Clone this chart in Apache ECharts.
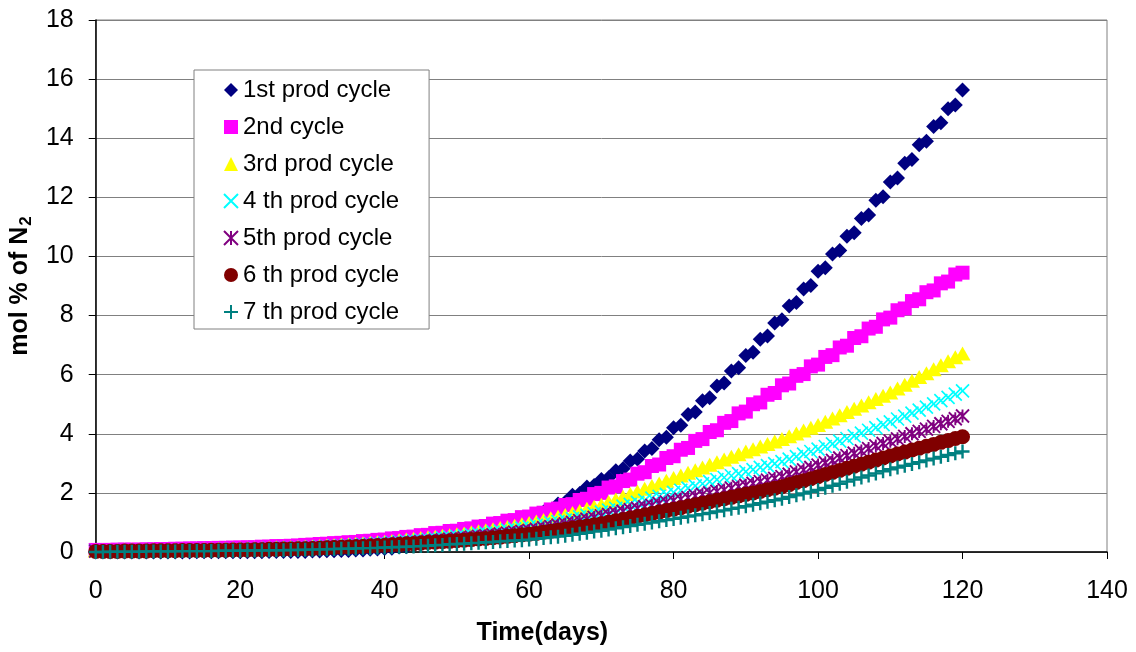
<!DOCTYPE html>
<html>
<head>
<meta charset="utf-8">
<script src="https://cdn.jsdelivr.net/npm/echarts@6/dist/echarts.min.js"></script>
<style>
  html, body { margin: 0; padding: 0; background: #fff; }
  #chart { width: 1136px; height: 652px; }
</style>
</head>
<body>
<div id="chart"></div>
<script>
// time axis (days)
const days = [
  0, 1, 2, 3, 4, 5, 6, 7, 8, 9,
  10, 11, 12, 13, 14, 15, 16, 17, 18, 19,
  20, 21, 22, 23, 24, 25, 26, 27, 28, 29,
  30, 31, 32, 33, 34, 35, 36, 37, 38, 39,
  40, 41, 42, 43, 44, 45, 46, 47, 48, 49,
  50, 51, 52, 53, 54, 55, 56, 57, 58, 59,
  60, 61, 62, 63, 64, 65, 66, 67, 68, 69,
  70, 71, 72, 73, 74, 75, 76, 77, 78, 79,
  80, 81, 82, 83, 84, 85, 86, 87, 88, 89,
  90, 91, 92, 93, 94, 95, 96, 97, 98, 99,
  100, 101, 102, 103, 104, 105, 106, 107, 108, 109,
  110, 111, 112, 113, 114, 115, 116, 117, 118, 119,
  120
];

// mol % of N2 per production cycle
const cycle1 = [
  0.00, 0.00, 0.00, 0.00, 0.00, 0.00, 0.00, 0.00, 0.00, 0.00,
  0.00, 0.00, 0.00, 0.00, 0.01, 0.01, 0.01, 0.01, 0.01, 0.01,
  0.01, 0.01, 0.01, 0.01, 0.02, 0.02, 0.02, 0.02, 0.02, 0.02,
  0.03, 0.03, 0.04, 0.04, 0.05, 0.05, 0.07, 0.07, 0.09, 0.10,
  0.12, 0.13, 0.17, 0.18, 0.24, 0.26, 0.32, 0.34, 0.41, 0.43,
  0.50, 0.52, 0.61, 0.63, 0.73, 0.76, 0.87, 0.90, 1.01, 1.04,
  1.15, 1.19, 1.35, 1.40, 1.62, 1.68, 1.92, 1.98, 2.20, 2.25,
  2.45, 2.51, 2.75, 2.82, 3.08, 3.15, 3.42, 3.50, 3.80, 3.88,
  4.20, 4.29, 4.65, 4.74, 5.12, 5.22, 5.62, 5.72, 6.12, 6.23,
  6.65, 6.76, 7.20, 7.31, 7.75, 7.86, 8.32, 8.44, 8.90, 9.02,
  9.50, 9.62, 10.08, 10.20, 10.68, 10.80, 11.28, 11.40, 11.90, 12.02,
  12.52, 12.65, 13.15, 13.28, 13.78, 13.90, 14.40, 14.52, 15.00, 15.12,
  15.63
];
const cycle2 = [
  0.07, 0.07, 0.07, 0.08, 0.08, 0.08, 0.08, 0.09, 0.09, 0.10,
  0.10, 0.11, 0.11, 0.12, 0.12, 0.13, 0.13, 0.14, 0.14, 0.15,
  0.15, 0.16, 0.16, 0.18, 0.18, 0.20, 0.20, 0.21, 0.22, 0.24,
  0.25, 0.27, 0.28, 0.30, 0.31, 0.33, 0.34, 0.37, 0.38, 0.41,
  0.42, 0.46, 0.47, 0.51, 0.52, 0.57, 0.58, 0.64, 0.65, 0.71,
  0.72, 0.78, 0.80, 0.86, 0.88, 0.96, 0.98, 1.06, 1.08, 1.18,
  1.20, 1.30, 1.33, 1.44, 1.47, 1.59, 1.62, 1.76, 1.80, 1.96,
  2.00, 2.18, 2.22, 2.40, 2.45, 2.65, 2.70, 2.91, 2.96, 3.18,
  3.24, 3.46, 3.52, 3.76, 3.82, 4.06, 4.12, 4.37, 4.43, 4.69,
  4.75, 5.00, 5.06, 5.32, 5.38, 5.64, 5.70, 5.96, 6.02, 6.28,
  6.34, 6.60, 6.66, 6.92, 6.98, 7.24, 7.30, 7.56, 7.62, 7.87,
  7.93, 8.18, 8.24, 8.49, 8.55, 8.79, 8.85, 9.09, 9.15, 9.39,
  9.45
];
const cycle3 = [
  0.05, 0.05, 0.05, 0.05, 0.06, 0.06, 0.06, 0.06, 0.07, 0.07,
  0.07, 0.07, 0.08, 0.08, 0.08, 0.09, 0.09, 0.10, 0.10, 0.11,
  0.11, 0.12, 0.12, 0.13, 0.14, 0.15, 0.15, 0.16, 0.17, 0.18,
  0.19, 0.20, 0.22, 0.23, 0.25, 0.26, 0.28, 0.30, 0.31, 0.33,
  0.35, 0.37, 0.40, 0.42, 0.45, 0.47, 0.50, 0.52, 0.55, 0.57,
  0.60, 0.63, 0.67, 0.70, 0.74, 0.77, 0.81, 0.85, 0.89, 0.94,
  0.98, 1.03, 1.08, 1.14, 1.19, 1.25, 1.32, 1.39, 1.46, 1.53,
  1.60, 1.69, 1.78, 1.87, 1.96, 2.05, 2.14, 2.23, 2.32, 2.41,
  2.50, 2.59, 2.68, 2.77, 2.86, 2.95, 3.04, 3.13, 3.22, 3.31,
  3.40, 3.48, 3.57, 3.65, 3.74, 3.82, 3.92, 4.01, 4.11, 4.20,
  4.30, 4.41, 4.52, 4.63, 4.74, 4.85, 4.96, 5.07, 5.18, 5.29,
  5.40, 5.53, 5.66, 5.79, 5.92, 6.05, 6.18, 6.32, 6.45, 6.59,
  6.72
];
const cycle4 = [
  0.04, 0.04, 0.04, 0.04, 0.05, 0.05, 0.05, 0.05, 0.06, 0.06,
  0.06, 0.06, 0.07, 0.07, 0.07, 0.08, 0.08, 0.08, 0.09, 0.09,
  0.09, 0.10, 0.11, 0.11, 0.12, 0.12, 0.13, 0.14, 0.14, 0.15,
  0.16, 0.17, 0.18, 0.20, 0.21, 0.22, 0.24, 0.25, 0.27, 0.28,
  0.30, 0.32, 0.34, 0.36, 0.38, 0.40, 0.42, 0.45, 0.47, 0.50,
  0.52, 0.55, 0.58, 0.61, 0.64, 0.67, 0.71, 0.74, 0.78, 0.81,
  0.85, 0.90, 0.94, 0.99, 1.03, 1.08, 1.13, 1.19, 1.24, 1.30,
  1.35, 1.42, 1.48, 1.55, 1.61, 1.68, 1.75, 1.82, 1.88, 1.95,
  2.02, 2.09, 2.16, 2.24, 2.31, 2.38, 2.45, 2.52, 2.58, 2.65,
  2.72, 2.79, 2.86, 2.92, 2.99, 3.06, 3.14, 3.23, 3.31, 3.40,
  3.48, 3.57, 3.66, 3.75, 3.84, 3.93, 4.02, 4.12, 4.21, 4.31,
  4.40, 4.50, 4.60, 4.70, 4.80, 4.90, 5.01, 5.12, 5.23, 5.34,
  5.45
];
const cycle5 = [
  0.03, 0.03, 0.03, 0.03, 0.04, 0.04, 0.04, 0.04, 0.05, 0.05,
  0.05, 0.05, 0.06, 0.06, 0.06, 0.07, 0.07, 0.07, 0.08, 0.08,
  0.08, 0.09, 0.09, 0.10, 0.10, 0.11, 0.11, 0.12, 0.12, 0.13,
  0.14, 0.15, 0.16, 0.17, 0.18, 0.19, 0.21, 0.22, 0.23, 0.25,
  0.26, 0.28, 0.30, 0.31, 0.33, 0.35, 0.37, 0.39, 0.41, 0.43,
  0.45, 0.48, 0.50, 0.53, 0.55, 0.58, 0.61, 0.64, 0.67, 0.70,
  0.73, 0.77, 0.82, 0.86, 0.91, 0.95, 1.00, 1.06, 1.11, 1.17,
  1.22, 1.27, 1.32, 1.38, 1.43, 1.48, 1.53, 1.58, 1.64, 1.69,
  1.74, 1.79, 1.84, 1.90, 1.95, 2.00, 2.05, 2.10, 2.16, 2.21,
  2.26, 2.32, 2.38, 2.43, 2.49, 2.55, 2.63, 2.71, 2.78, 2.86,
  2.94, 3.02, 3.10, 3.18, 3.26, 3.34, 3.42, 3.50, 3.59, 3.67,
  3.75, 3.83, 3.91, 4.00, 4.08, 4.16, 4.25, 4.34, 4.42, 4.51,
  4.60
];
const cycle6 = [
  0.02, 0.02, 0.02, 0.02, 0.03, 0.03, 0.03, 0.03, 0.04, 0.04,
  0.04, 0.04, 0.05, 0.05, 0.05, 0.05, 0.06, 0.06, 0.06, 0.07,
  0.07, 0.07, 0.08, 0.08, 0.09, 0.09, 0.10, 0.10, 0.11, 0.11,
  0.12, 0.13, 0.14, 0.15, 0.16, 0.17, 0.18, 0.19, 0.20, 0.21,
  0.22, 0.24, 0.25, 0.27, 0.28, 0.30, 0.32, 0.33, 0.35, 0.36,
  0.38, 0.40, 0.42, 0.44, 0.46, 0.48, 0.50, 0.53, 0.55, 0.58,
  0.60, 0.63, 0.67, 0.70, 0.74, 0.77, 0.81, 0.85, 0.88, 0.92,
  0.96, 1.01, 1.06, 1.10, 1.15, 1.20, 1.25, 1.30, 1.35, 1.40,
  1.45, 1.50, 1.55, 1.60, 1.65, 1.70, 1.75, 1.80, 1.85, 1.90,
  1.95, 2.00, 2.05, 2.11, 2.16, 2.21, 2.28, 2.35, 2.41, 2.48,
  2.55, 2.62, 2.69, 2.76, 2.83, 2.90, 2.97, 3.04, 3.11, 3.18,
  3.25, 3.32, 3.38, 3.45, 3.51, 3.58, 3.64, 3.71, 3.77, 3.84,
  3.90
];
const cycle7 = [
  0.00, 0.00, 0.01, 0.01, 0.01, 0.01, 0.01, 0.02, 0.02, 0.02,
  0.02, 0.02, 0.03, 0.03, 0.03, 0.03, 0.03, 0.04, 0.04, 0.04,
  0.04, 0.05, 0.05, 0.05, 0.06, 0.06, 0.06, 0.07, 0.07, 0.08,
  0.08, 0.09, 0.09, 0.10, 0.11, 0.11, 0.12, 0.13, 0.13, 0.14,
  0.15, 0.16, 0.17, 0.18, 0.19, 0.20, 0.21, 0.23, 0.24, 0.26,
  0.27, 0.28, 0.30, 0.31, 0.33, 0.34, 0.36, 0.37, 0.39, 0.40,
  0.42, 0.45, 0.47, 0.50, 0.52, 0.55, 0.58, 0.62, 0.65, 0.69,
  0.72, 0.76, 0.80, 0.84, 0.88, 0.92, 0.96, 1.00, 1.04, 1.08,
  1.12, 1.16, 1.20, 1.24, 1.28, 1.32, 1.37, 1.41, 1.46, 1.50,
  1.55, 1.60, 1.65, 1.70, 1.75, 1.80, 1.86, 1.92, 1.98, 2.04,
  2.10, 2.17, 2.24, 2.31, 2.38, 2.45, 2.52, 2.59, 2.66, 2.73,
  2.80, 2.86, 2.92, 2.98, 3.04, 3.10, 3.16, 3.22, 3.28, 3.34,
  3.40
];

const names = ['1st prod cycle', '2nd cycle', '3rd prod cycle', '4 th prod cycle',
  '5th prod cycle', '6 th prod cycle', '7 th prod cycle'];

const FONT = 'Liberation Sans, Arial, sans-serif';

// excel-like markers
const markers = [
  { symbol: 'diamond', size: 15, color: '#000080' },
  { symbol: 'rect', size: 14, color: '#FF00FF' },
  { symbol: 'triangle', size: [16, 14], color: '#FFFF00' },
  { symbol: 'path://M0,0L10,10M10,0L0,10', size: 13, color: '#00FFFF', stroke: 1.7 },
  { symbol: 'path://M0,0L10,10M10,0L0,10M5,0L5,10', size: 13, color: '#800080', stroke: 1.9 },
  { symbol: 'circle', size: 15, color: '#800000' },
  { symbol: 'path://M5,0L5,10M0,5L10,5', size: 14, color: '#008080', stroke: 2.4 }
];

const allData = [cycle1, cycle2, cycle3, cycle4, cycle5, cycle6, cycle7];

const series = allData.map((vals, k) => {
  const m = markers[k];
  const itemStyle = m.stroke
    ? { color: 'rgba(0,0,0,0)', borderColor: m.color, borderWidth: m.stroke, opacity: 1 }
    : { color: m.color, borderWidth: 0, opacity: 1 };
  return {
    name: names[k],
    type: 'scatter',
    symbol: m.symbol,
    symbolSize: m.size,
    itemStyle: itemStyle,
    emphasis: { disabled: true },
    animation: false,
    data: days.map((d, i) => [d, vals[i]])
  };
});

const chart = echarts.init(document.getElementById('chart'), null, { renderer: 'canvas' });
chart.setOption({
  backgroundColor: '#fff',
  animation: false,
  textStyle: { fontFamily: FONT },
  grid: {
    left: 91, right: 29, top: 20, bottom: 100,
    show: true, borderColor: '#808080', borderWidth: 1, backgroundColor: '#fff'
  },
  legend: {
    orient: 'vertical',
    left: 194,
    top: 70,
    padding: [7, 30, 4, 29],
    itemWidth: 14,
    itemHeight: 14,
    itemGap: 11,
    backgroundColor: '#fff',
    borderColor: '#808080',
    borderWidth: 1,
    borderRadius: 0,
    data: names.map((n, k) => ({ name: n, icon: markers[k].symbol })),
    textStyle: { fontFamily: FONT, fontSize: 24, color: '#000', lineHeight: 26 }
  },
  xAxis: {
    type: 'value',
    min: 0, max: 140, interval: 20,
    name: 'Time(days)',
    nameLocation: 'middle',
    nameGap: 69,
    nameTextStyle: { fontFamily: FONT, fontSize: 25, fontWeight: 'bold', color: '#000', padding: [0, 118, 0, 0] },
    axisLine: { show: true, onZero: false, lineStyle: { color: '#000', width: 1.5 } },
    axisTick: { show: true, inside: false, length: 7, lineStyle: { color: '#000' } },
    axisLabel: { fontFamily: FONT, fontSize: 25, color: '#000', margin: 27 },
    splitLine: { show: false }
  },
  yAxis: {
    type: 'value',
    min: 0, max: 18, interval: 2,
    name: '{a|mol % of N}{s|2}',
    nameLocation: 'middle',
    nameGap: 54,
    nameRotate: 90,
    nameTextStyle: {
      rich: {
        a: { fontFamily: FONT, fontSize: 25, fontWeight: 'bold', color: '#000' },
        s: { fontFamily: FONT, fontSize: 17, fontWeight: 'bold', color: '#000', padding: [12, 0, 0, 1] }
      }
    },
    axisLine: { show: true, lineStyle: { color: '#000', width: 1.5 } },
    axisTick: { show: true, inside: false, length: 7, lineStyle: { color: '#000' } },
    axisLabel: { fontFamily: FONT, fontSize: 25, color: '#000', margin: 22 },
    splitLine: { show: true, lineStyle: { color: '#808080', width: 1 } }
  },
  series: series
});
</script>
</body>
</html>
